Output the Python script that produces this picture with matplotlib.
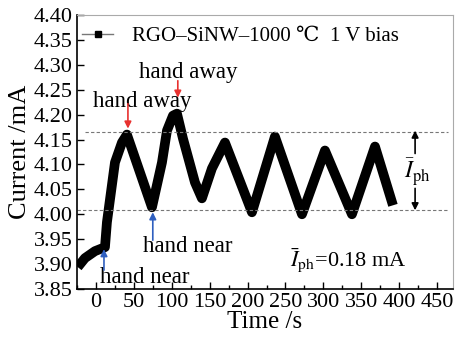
import matplotlib
matplotlib.use("Agg")
import matplotlib.pyplot as plt
from matplotlib.lines import Line2D
from matplotlib.ticker import MultipleLocator

plt.rcParams["font.family"] = ["Liberation Serif", "DejaVu Serif"]
plt.rcParams["mathtext.fontset"] = "stix"

# 时间 (s) 和 电流 (mA)
time_s = [-24, -14.5, -1.3, 11.9, 14.5, 25.1, 34.3, 40.9, 73.9, 87.1, 93.7, 101.6,
          106.9, 114.8, 130.6, 139.8, 153.0, 170.2, 205.8, 236.1, 271.8, 302.1,
          337.7, 368.1, 391.8]
current_mA = [3.894, 3.912, 3.926, 3.934, 3.984, 4.104, 4.144, 4.160, 4.014, 4.104,
              4.168, 4.198, 4.202, 4.152, 4.064, 4.032, 4.092, 4.144, 4.004, 4.156,
              4.000, 4.128, 4.000, 4.136, 4.018]

x_ticks = list(range(0, 451, 50))
y_ticks = [3.85, 3.90, 3.95, 4.00, 4.05, 4.10, 4.15, 4.20, 4.25, 4.30, 4.35, 4.40]
level_high = 4.166
level_low = 4.008

fig = plt.figure(figsize=(4.55, 3.37), dpi=100)
ax = fig.add_axes([0.1692, 0.1424, 0.8264, 0.8131])

ax.plot(time_s, current_mA, color="black", lw=7, solid_joinstyle="round",
        solid_capstyle="butt")

# 虚线
ax.hlines(level_high, -14, 464, colors="#777777", linestyles=(0, (3, 2)), lw=0.8)
ax.hlines(level_low, -25, 464, colors="#777777", linestyles=(0, (3, 2)), lw=0.8)

ax.set_xlim(-25, 471)
ax.set_ylim(3.85, 4.40)
ax.set_xticks(x_ticks)
ax.xaxis.set_minor_locator(MultipleLocator(25))
ax.set_yticks(y_ticks)
ax.set_yticklabels(["%.2f" % v for v in y_ticks])
ax.tick_params(axis="both", which="both", direction="in", labelsize=16,
               top=False, right=False)
ax.tick_params(which="major", length=5, width=1, pad=3)
ax.tick_params(which="minor", length=3, width=1)
for s in ["top", "right"]:
    ax.spines[s].set_color("#aaaaaa")
    ax.spines[s].set_linewidth(0.8)
for s in ["left", "bottom"]:
    ax.spines[s].set_linewidth(1.2)

ax.set_xlabel("Time /s", fontsize=18, labelpad=-1)
ax.set_ylabel("Current /mA", fontsize=19, labelpad=2)

# 图例
handle = Line2D([], [], color="#777777", lw=1, marker="s", markersize=5,
                markerfacecolor="black", markeredgecolor="black")
ax.legend([handle], ["RGO–SiNW–1000 ℃"], loc="center left",
          bbox_to_anchor=(0.0, 0.923), frameon=False, fontsize=15,
          handlelength=1.5, handletextpad=0.9, borderaxespad=0, borderpad=0.25)
ax.text(309, 4.348, "1 V bias", fontsize=15)

# 标注
ax.text(-4, 4.216, "hand away", fontsize=16.5)
ax.text(56.7, 4.274, "hand away", fontsize=16.5)
ax.text(5.3, 3.862, "hand near", fontsize=16.5)
ax.text(62, 3.924, "hand near", fontsize=16.5)

red = "#e8312f"
blue = "#2f5fbf"
arrow_kw = dict(arrowstyle="-|>", lw=1.2, mutation_scale=10, shrinkA=0, shrinkB=0)
ax.annotate("", xy=(42.2, 4.172), xytext=(42.2, 4.222), arrowprops=dict(color=red, **arrow_kw))
ax.annotate("", xy=(108, 4.234), xytext=(108, 4.268), arrowprops=dict(color=red, **arrow_kw))
ax.annotate("", xy=(10.6, 3.930), xytext=(10.6, 3.888), arrowprops=dict(color=blue, **arrow_kw))
ax.annotate("", xy=(75, 4.004), xytext=(75, 3.948), arrowprops=dict(color=blue, **arrow_kw))

# I_ph 双箭头
ax.annotate("", xy=(421, 4.168), xytext=(421, 4.122), arrowprops=dict(color="black", **arrow_kw))
ax.annotate("", xy=(421, 4.008), xytext=(421, 4.052), arrowprops=dict(color="black", **arrow_kw))
ax.text(424, 4.084, r"$\bar{I}_{\mathrm{ph}}$", fontsize=17, ha="center", va="center")
ax.text(256, 3.894, r"$\bar{I}_{\mathrm{ph}}$=0.18 mA", fontsize=16)

plt.savefig("out.png", dpi=100)
